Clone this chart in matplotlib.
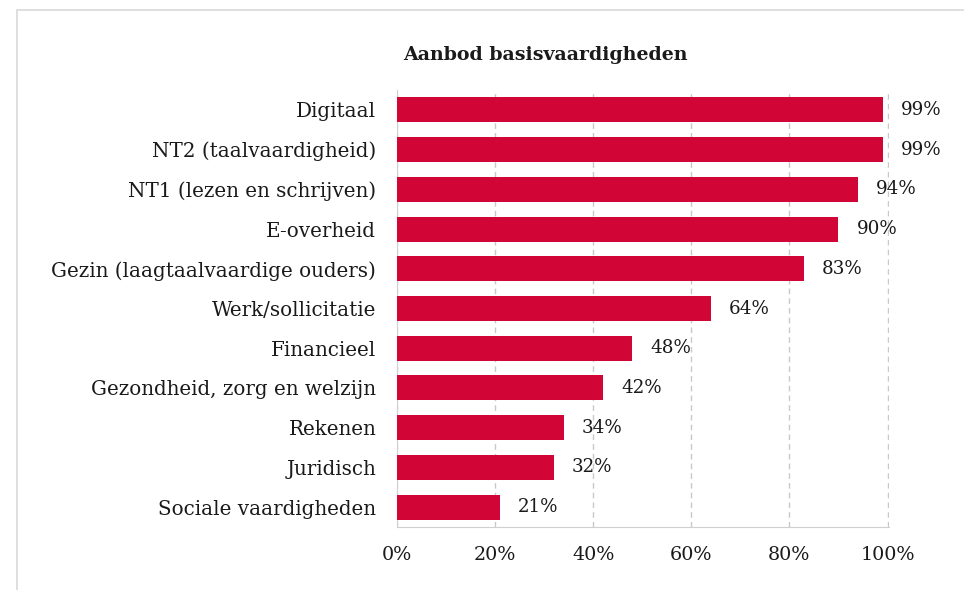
import matplotlib.pyplot as plt
from matplotlib.patches import Rectangle

categorieen = ["Digitaal", "NT2 (taalvaardigheid)", "NT1 (lezen en schrijven)", "E-overheid",
               "Gezin (laagtaalvaardige ouders)", "Werk/sollicitatie", "Financieel",
               "Gezondheid, zorg en welzijn", "Rekenen", "Juridisch", "Sociale vaardigheden"]
percentages = [99, 99, 94, 90, 83, 64, 48, 42, 34, 32, 21]
xticks = [0, 20, 40, 60, 80, 100]

plt.rcParams['font.family'] = 'DejaVu Serif'

fig = plt.figure(figsize=(9.64, 5.9), dpi=100)
fig.patches.append(Rectangle((17/964, -0.1), 1.1, 1.1 - 10/590, transform=fig.transFigure,
                             fill=False, edgecolor="#d9d9d9", linewidth=1.2))

ax = fig.add_axes([397/964, 1 - 527/590, 492/964, 437/590])

y = list(range(len(categorieen)))
ax.barh(y, percentages, height=0.63, color="#d20537", zorder=3)
for yi, p in zip(y, percentages):
    ax.annotate(f"{p}%", (p, yi), xytext=(13, 0), textcoords="offset points",
                va="center", ha="left", fontsize=13.2, color="#1a1a1a")

ax.set_ylim(len(categorieen) - 0.5, -0.5)
ax.set_xlim(0, 100.3)
ax.set_yticks(y)
ax.set_yticklabels(categorieen, fontsize=14.3, color="#1a1a1a")
ax.set_xticks(xticks)
ax.set_xticklabels([f"{t}%" for t in xticks], fontsize=13.8, color="#1a1a1a")
ax.tick_params(axis="y", length=0, pad=15)
ax.tick_params(axis="x", length=0, pad=14)

ax.grid(axis="x", color="#c8c8c8", linestyle=(0, (4, 3)), linewidth=1, zorder=0)
for s in ["top", "right"]:
    ax.spines[s].set_visible(False)
for s in ["left", "bottom"]:
    ax.spines[s].set_color("#d0d0d0")

fig.text(545/964, 1 - 55/590, "Aanbod basisvaardigheden", ha="center", va="center",
         fontsize=13.7, fontweight="bold", color="#1a1a1a")

fig.savefig("out.png", dpi=100)
